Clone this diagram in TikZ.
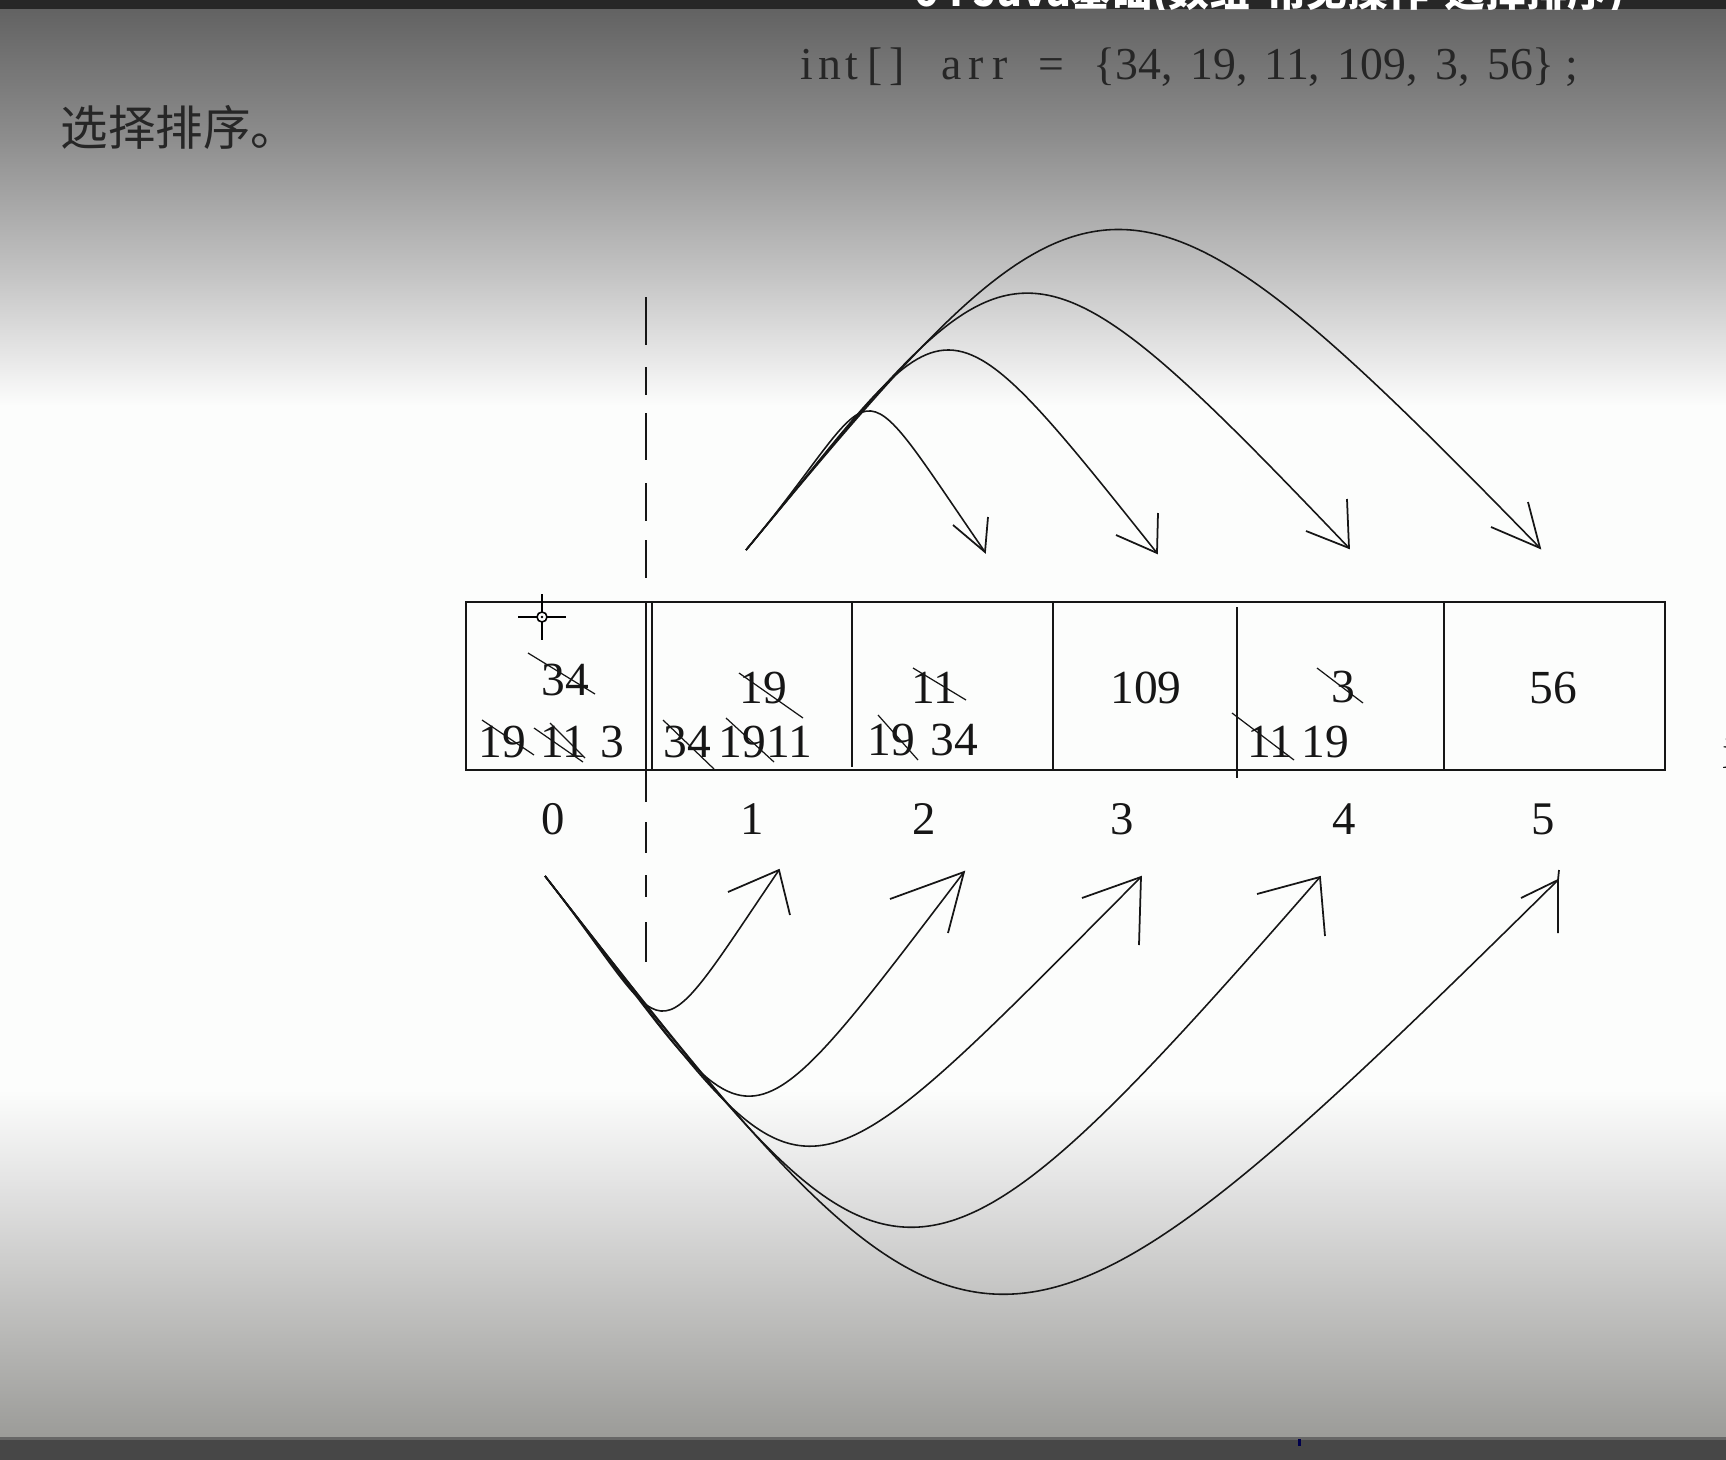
\documentclass[tikz,border=0pt]{standalone}
\usepackage{fontspec}
\setmainfont{Liberation Serif}
\newfontfamily\cjk{Noto Sans CJK SC}
\definecolor{barcol}{HTML}{272727}
\definecolor{bbar}{HTML}{474747}
\definecolor{gA}{HTML}{626262}
\definecolor{gB}{HTML}{8E8E8E}
\definecolor{gC}{HTML}{C6C6C6}
\definecolor{gD}{HTML}{EEEEEE}
\definecolor{gW}{HTML}{FCFDFC}
\definecolor{gE}{HTML}{E4E4E4}
\definecolor{gF}{HTML}{9B9B98}
\definecolor{ink}{HTML}{161616}
\definecolor{codeink}{HTML}{262626}
\newcommand\mc[2]{\makebox[#1cm]{#2}}
\tikzset{
  num/.style={inner sep=0pt, text=ink, font=\fontsize{13.5}{16}\selectfont},
  idx/.style={inner sep=0pt, text=ink, font=\fontsize{13.3}{16}\selectfont},
  code/.style={inner sep=0pt, text=codeink, font=\fontsize{13}{15}\selectfont},
  strike/.style={line width=0.35pt, draw=ink},
  arc/.style={line width=0.45pt, draw=ink},
  barb/.style={line width=0.5pt, draw=ink},
  boxline/.style={line width=0.6pt, draw=ink},
  dashline/.style={line width=0.6pt, draw=ink},
}
\begin{document}
\begin{tikzpicture}[x=0.01cm,y=-0.01cm]
\useasboundingbox (0,0) rectangle (1726,1460);
\clip (0,0) rectangle (1726,1460);
% ---------- background ----------
\fill[gW] (0,0) rectangle (1726,1460);
\shade[top color=gA,bottom color=gB] (0,8) rectangle (1726,141);
\shade[top color=gB,bottom color=gC] (0,140) rectangle (1726,281);
\shade[top color=gC,bottom color=gD] (0,280) rectangle (1726,373);
\shade[top color=gD,bottom color=gW] (0,372) rectangle (1726,406);
\shade[top color=gW,bottom color=gE] (0,1090) rectangle (1726,1181);
\shade[top color=gE,bottom color=gF] (0,1180) rectangle (1726,1438);
\fill[barcol] (0,0) rectangle (1726,9);
\fill[gray!80!black] (0,1437) rectangle (1726,1440);
\fill[bbar] (0,1440) rectangle (1726,1460);
\fill[blue!30!black] (1298,1439) rectangle (1301,1446);
% ---------- title (cut off) ----------
\begin{scope}
\clip (0,0) rectangle (1726,9);
\node[anchor=base west, inner sep=0pt, text=white, font=\cjk\bfseries\fontsize{11.6}{14}\selectfont] (title) at (914,6) {04 Java基础(数组-常见操作-选择排序)};
\end{scope}
% ---------- heading texts ----------
\node[anchor=west, inner sep=0pt, text=codeink, font=\cjk\fontsize{13.5}{16}\selectfont] (heading) at (60,127) {选择排序。};
\node[code, anchor=base west] (kw) at (795,79) {\mc{0.226}{i}\mc{0.226}{n}\mc{0.226}{t}\mc{0.226}{[}\mc{0.226}{]}};
\node[code, anchor=base west] (arr) at (939,79) {\mc{0.24}{a}\mc{0.24}{r}\mc{0.24}{r}};
\node[code, anchor=base] (eq) at (1051,79) {=};
\node[code, anchor=base west] (vals) at (1093,79) {{\spaceskip=0.175cm\relax \{34, 19, 11, 109, 3, 56\}}};
\node[code, anchor=base] (semi) at (1572,79) {;};
% ---------- array box ----------
\draw[boxline] (466,602) rectangle (1665,770);
\draw[boxline] (652,602) -- (652,770);
\draw[boxline] (852,602) -- (852,767);
\draw[boxline] (1053,602) -- (1053,770);
\draw[boxline] (1237,607) -- (1237,778);
\draw[boxline] (1444,602) -- (1444,770);
% dashed separator (hand drawn dashes)
\draw[dashline] (646,297) -- (646,345) (646,367) -- (646,395) (646,413) -- (646,460)
  (646,483) -- (646,521) (646,540) -- (646,578) (646,601) -- (646,802)
  (646,822) -- (646,853) (646,875) -- (646,897) (646,922) -- (646,962);
% cursor
\draw[line width=0.5pt] (542,594) -- (542,612) (542,622) -- (542,640) (518,617) -- (537,617) (547,617) -- (566,617);
\draw[line width=0.45pt] (542,617) circle (5);
\fill (542,617) circle (1.3);
% ---------- cell contents ----------
\node[num] (c0a) at (565,680) {34};
\node[num] (c0b) at (502,742) {19};
\node[num] (c0c) at (563,742) {11};
\node[num] (c0d) at (612,742) {3};
\node[num] (c1a) at (763,688) {19};
\node[num] (c1b) at (687,742) {34};
\node[num] (c1c) at (742,742) {19};
\node[num] (c1d) at (789,742) {11};
\node[num] (c2a) at (934,688) {11};
\node[num] (c2b) at (891,740) {19};
\node[num] (c2c) at (954,740) {34};
\node[num] (c3a) at (1146,688) {109};
\node[num] (c4a) at (1343,687) {3};
\node[num] (c4b) at (1270,742) {11};
\node[num] (c4c) at (1325,742) {19};
\node[num] (c5a) at (1553,688) {56};
% strike-throughs
\draw[strike] (528,653) -- (595,694);
\draw[strike] (482,720) -- (534,755);
\draw[strike] (534,728) -- (583,762);
\draw[strike] (550,723) -- (585,758);
\draw[strike] (739,673) -- (803,718);
\draw[strike] (663,720) -- (714,769);
\draw[strike] (726,718) -- (774,762);
\draw[strike] (913,668) -- (966,700);
\draw[strike] (878,715) -- (918,760);
\draw[strike] (1317,668) -- (1363,703);
\draw[strike] (1232,713) -- (1294,760);
% index labels
\node[idx] (i0) at (553,819) {0};
\node[idx] (i1) at (752,819) {1};
\node[idx] (i2) at (924,819) {2};
\node[idx] (i3) at (1122,819) {3};
\node[idx] (i4) at (1344,819) {4};
\node[idx] (i5) at (1543,819) {5};
% partially visible glyph at right edge
\node[num, anchor=base west] (edge) at (1722,768) {i};
% ---------- top arcs ----------
\coordinate (ts) at (746,550);
\coordinate (t1) at (985,552);
\coordinate (t2) at (1157,553);
\coordinate (t3) at (1349,548);
\coordinate (t4) at (1540,548);
\draw[arc] (ts) .. controls (888,380) and (845,349) .. (t1);
\draw[arc] (ts) .. controls (955,299) and (929,267) .. (t2);
\draw[arc] (ts) .. controls (1017,222) and (1011,194) .. (t3);
\draw[arc] (ts) .. controls (1094,130) and (1119,116) .. (t4);
\draw[barb] (953,525) -- (t1) -- (988,517);
\draw[barb] (1116,535) -- (t2) -- (1158,513);
\draw[barb] (1306,531) -- (t3) -- (1347,499);
\draw[barb] (1491,527) -- (t4) -- (1528,502);
% ---------- bottom arcs ----------
\coordinate (bs) at (545,876);
\coordinate (b1) at (779,870);
\coordinate (b2) at (964,872);
\coordinate (b3) at (1141,877);
\coordinate (b4) at (1320,877);
\coordinate (b5) at (1558,880);
\draw[arc] (bs) .. controls (677,1045) and (644,1069) .. (b1);
\draw[arc] (bs) .. controls (761,1152) and (723,1188) .. (b2);
\draw[arc] (bs) .. controls (816,1223) and (771,1249) .. (b3);
\draw[arc] (bs) .. controls (896,1325) and (896,1363) .. (b4);
\draw[arc] (bs) .. controls (976,1428) and (992,1438) .. (b5);
\draw[barb] (728,892) -- (b1) -- (790,915);
\draw[barb] (890,899) -- (b2) -- (948,933);
\draw[barb] (1082,898) -- (b3) -- (1139,945);
\draw[barb] (1257,894) -- (b4) -- (1325,936);
\draw[barb] (1521,898) -- (b5) -- (1558,933);
\draw[barb] (b5) -- (1559,870);
\end{tikzpicture}
\end{document}
